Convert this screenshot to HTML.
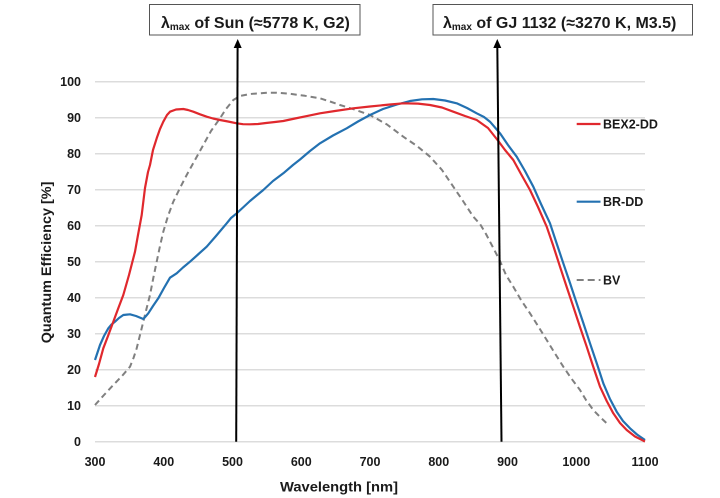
<!DOCTYPE html>
<html>
<head>
<meta charset="utf-8">
<style>
html,body{margin:0;padding:0;background:#fff;}
svg{display:block;}
text{font-family:"Liberation Sans",Arial,sans-serif;font-weight:bold;fill:#1a1a1a;}
</style>
</head>
<body>
<svg width="720" height="498" viewBox="0 0 720 498" xmlns="http://www.w3.org/2000/svg">
<rect width="720" height="498" fill="#fff"/>
<!-- gridlines -->
<g stroke="#dcdcdc" stroke-width="1.5">
<line x1="95" y1="81.7" x2="645" y2="81.7"/>
<line x1="95" y1="117.7" x2="645" y2="117.7"/>
<line x1="95" y1="153.7" x2="645" y2="153.7"/>
<line x1="95" y1="189.7" x2="645" y2="189.7"/>
<line x1="95" y1="225.7" x2="645" y2="225.7"/>
<line x1="95" y1="261.7" x2="645" y2="261.7"/>
<line x1="95" y1="297.7" x2="645" y2="297.7"/>
<line x1="95" y1="333.7" x2="645" y2="333.7"/>
<line x1="95" y1="369.7" x2="645" y2="369.7"/>
<line x1="95" y1="405.7" x2="645" y2="405.7"/>
<line x1="95" y1="441.7" x2="645" y2="441.7"/>
</g>
<!-- y tick labels -->
<g font-size="12.5" text-anchor="end">
<text x="81" y="86.2">100</text>
<text x="81" y="122.2">90</text>
<text x="81" y="158.2">80</text>
<text x="81" y="194.2">70</text>
<text x="81" y="230.2">60</text>
<text x="81" y="266.2">50</text>
<text x="81" y="302.2">40</text>
<text x="81" y="338.2">30</text>
<text x="81" y="374.2">20</text>
<text x="81" y="410.2">10</text>
<text x="81" y="446.2">0</text>
</g>
<!-- x tick labels -->
<g font-size="12.5" text-anchor="middle">
<text x="95" y="466">300</text>
<text x="163.75" y="466">400</text>
<text x="232.5" y="466">500</text>
<text x="301.25" y="466">600</text>
<text x="370" y="466">700</text>
<text x="438.75" y="466">800</text>
<text x="507.5" y="466">900</text>
<text x="576.25" y="466">1000</text>
<text x="645" y="466">1100</text>
</g>
<!-- axis titles -->
<text x="280" y="491.5" font-size="14" textLength="118" lengthAdjust="spacingAndGlyphs">Wavelength [nm]</text>
<text transform="translate(51,343.3) rotate(-90)" x="0" y="0" font-size="14" textLength="161.7" lengthAdjust="spacingAndGlyphs">Quantum Efficiency [%]</text>

<!-- BV dashed -->
<polyline fill="none" stroke="#808080" stroke-width="2" stroke-dasharray="6,4" stroke-linejoin="round"
points="95,405 104,395 113.3,385 122,376 130,366.7 133.5,358 136.7,348.3 140,335 143.3,321.7 146.7,308 150,295 153.3,278 156.7,261.7 160,246 163.3,231.7 168,216 173.3,201.7 180,188 186.7,175 195,160 203.3,145 211,131 220,118.3 226,109 233.3,100 240,96 250,94 260,93.3 268,92.7 276.7,92.7 290,93.8 305,95.8 320,98.3 330,101.5 340,105 355,109.7 370,115 387,124.5 403.3,136.7 417,146 430,156.7 442,170 453.3,186.7 463,201 473.3,216.7 480,224 486,234 493.3,248 500,261 506,275 513.3,286.7 521,300 530,313.3 538,326 546.7,340 555,353.5 563.3,366.7 571,378 580,390 586,400 593.3,410 600,417 606.7,423.3"/>

<!-- BR-DD blue -->
<polyline fill="none" stroke="#2371b1" stroke-width="2.2" stroke-linejoin="round"
points="95,360 100,345 104,336 108.3,328.3 111.5,324.5 115,321.7 119,318 123.3,315 130,314.3 136,316 143.3,319 146,316 148.3,313.3 153,306 158.3,298.3 164,288 170,277.7 176.7,273.3 183,267.5 190,261.7 198,254.5 206.7,246.7 216,236 226.7,223.3 231,218 236.7,213.3 243,207.5 250,201 256,196 263.3,190 273,181 283.3,173.3 293,165 300,159.5 310,151 320,143.3 333,135.5 346.7,128.3 358,121.5 370,115 383,109 397,104.5 410,101 422,99.3 433.3,99 445,100.5 456.7,103.3 467,108 476.7,113.3 484,117 490,121.7 500,133.3 508,145 516.7,156.7 525,171 533.3,186.7 541,204 550,223.3 556.5,243 563.3,263.3 570,283 576.7,303.3 583.3,323 590,343.3 597,364 603.3,383.3 610,399 616.7,411.7 623,421 630,428.3 637,434.5 645,440"/>

<!-- BEX2-DD red -->
<polyline fill="none" stroke="#e0282d" stroke-width="2.2" stroke-linejoin="round"
points="95,377 99,364 103.3,348.3 108,336 113.3,321.7 118,309 123.3,295 129,275 135,251.7 138,235 141.7,215 145,188 148,172 150,165 153,150 156.7,138.3 160,129 163.3,121.7 167,115 170,111.7 176,109.5 183.3,109 188,110 193.3,111.7 200,114.3 206.7,116.7 213,118.5 220,120 228,121.5 236.7,123.3 243,124.2 250,124.3 258,124 266,123 275,122 283.3,121 295,118.5 308,115.8 320,113.3 335,111 353.3,108.3 370,106.5 390,104.5 403.3,103.3 418,103.6 430,105 442,107.5 453.3,111.7 465,116 476.7,120 488,128 498.3,141 505,150 513.3,160 521,174 530,190 538,207 546.7,226.7 553,245 560,266.7 566.7,287 573.3,306.7 580,327 586.7,346.7 593,366 600,386.7 606.7,401 613.3,413.3 620,423 626.7,430 635,436.5 643.3,440.7 645,441.5"/>

<!-- vertical marker lines -->
<line x1="237.6" y1="46" x2="236.2" y2="441.7" stroke="#000" stroke-width="2"/>
<polygon points="237.7,39 233.7,48 241.7,48" fill="#000"/>
<line x1="497.3" y1="46" x2="501.5" y2="441.7" stroke="#000" stroke-width="2"/>
<polygon points="497.3,39 493.3,48 501.3,48" fill="#000"/>

<!-- annotation boxes -->
<rect x="149.5" y="4.5" width="210.5" height="30.5" fill="#fff" stroke="#555" stroke-width="1"/>
<text x="161" y="28" font-size="16"><tspan>λ</tspan><tspan font-size="10" dy="2">max</tspan><tspan dy="-2"> of Sun (≈5778 K, G2)</tspan></text>
<rect x="433" y="4.5" width="259.5" height="30.5" fill="#fff" stroke="#555" stroke-width="1"/>
<text x="443" y="28" font-size="16"><tspan>λ</tspan><tspan font-size="10" dy="2">max</tspan><tspan dy="-2"> of GJ 1132 (≈3270 K, M3.5)</tspan></text>

<!-- legend -->
<line x1="576.7" y1="124" x2="600.5" y2="124" stroke="#e0282d" stroke-width="2.2"/>
<text x="603" y="128.5" font-size="12.5">BEX2-DD</text>
<line x1="576.7" y1="201.7" x2="600.5" y2="201.7" stroke="#2371b1" stroke-width="2.2"/>
<text x="603" y="206.2" font-size="12.5">BR-DD</text>
<line x1="576.7" y1="280" x2="600.5" y2="280" stroke="#808080" stroke-width="2" stroke-dasharray="7,4"/>
<text x="603" y="284.5" font-size="12.5">BV</text>
</svg>
</body>
</html>
